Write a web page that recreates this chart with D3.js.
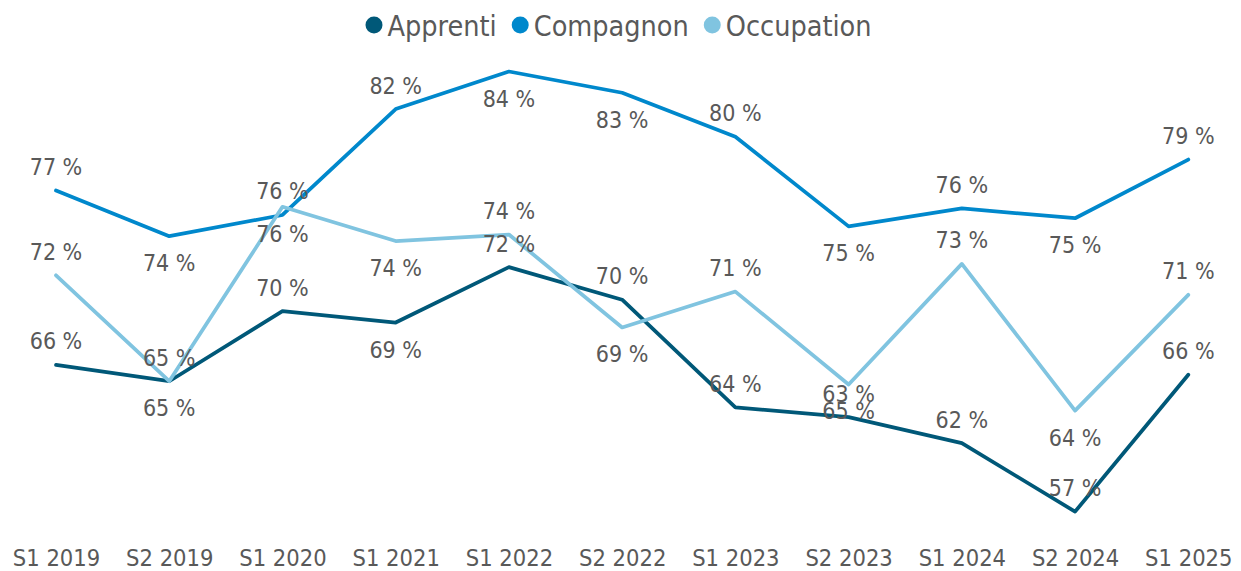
<!DOCTYPE html>
<html lang="fr">
<head>
    <meta charset="UTF-8">
    <title>Apprenti Compagnon Occupation</title>
    <script src="https://d3js.org/d3.v7.min.js"></script>
    <style>
        body { margin: 0; background: #fff; }
        text { font-family: "DejaVu Sans Condensed", "DejaVu Sans", sans-serif; font-stretch: condensed; fill: #595959; }
    </style>
</head>
<body>

    <svg width="1241" height="571"></svg>

<script>

    var categories = ['S1 2019','S2 2019','S1 2020','S1 2021','S1 2022','S2 2022','S1 2023','S2 2023','S1 2024','S2 2024','S1 2025'];
    var apprenti   = [66.4, 65.4, 69.7, 69.0, 72.4, 70.4, 63.8, 63.2, 61.6, 57.4, 65.8];
    var compagnon  = [77.1, 74.3, 75.6, 82.1, 84.4, 83.1, 80.4, 74.9, 76.0, 75.4, 79.0];
    var occupation = [71.9, 65.4, 76.1, 74.0, 74.4, 68.7, 70.9, 65.2, 72.6, 63.6, 70.7];

    // étiquettes au-dessus (a) ou au-dessous (b) du point
    var posApprenti   = ['a','b','a','b','a','a','a','a','a','a','a'];
    var posCompagnon  = ['a','b','a','a','b','b','a','b','a','b','a'];
    var posOccupation = ['a','a','b','b','a','b','a','b','a','b','a'];

    var series = [
        {name: 'Apprenti',   values: apprenti,   pos: posApprenti,   color: '#005878'},
        {name: 'Compagnon',  values: compagnon,  pos: posCompagnon,  color: '#0088cc'},
        {name: 'Occupation', values: occupation, pos: posOccupation, color: '#80c4e0'}
    ];

    var svg = d3.select('svg');
    var width = +svg.attr('width');

    // échelles
    var x = d3.scalePoint().domain(categories).range([56, 1188.3]);
    var y = d3.scaleLinear().domain([55, 85]).range([550.75, 61.75]);

    // axe x sans trait ni graduation
    var axisX = d3.axisBottom(x).tickSize(0).tickPadding(0);
    var gx = svg.append('g').attr('transform', 'translate(0,549)').call(axisX);
    gx.select('.domain').remove();
    gx.selectAll('text')
        .attr('dy', '0.71em')
        .style('font-size', '23.5px')
        .style('font-family', null)
        .attr('fill', '#595959');

    // lignes
    var line = d3.line()
        .x(function (d, i) { return x(categories[i]); })
        .y(function (d) { return y(d); });

    svg.selectAll('path.serie').data(series).enter().append('path')
        .attr('class', 'serie')
        .attr('d', function (d) { return line(d.values); })
        .attr('fill', 'none')
        .attr('stroke', function (d) { return d.color; })
        .attr('stroke-width', 3.75)
        .attr('stroke-linejoin', 'round')
        .attr('stroke-linecap', 'round');

    // étiquettes de données
    series.forEach(function (s) {
        svg.append('g').selectAll('text').data(s.values).enter().append('text')
            .attr('x', function (d, i) { return x(categories[i]); })
            .attr('y', function (d, i) { return y(d) + (s.pos[i] === 'a' ? -15.5 : 35); })
            .attr('text-anchor', 'middle')
            .style('font-size', '23px')
            .text(function (d) { return Math.round(d) + ' %'; });
    });

    // légende
    var legend = svg.append('g');
    var lx = 0;
    series.forEach(function (s, i) {
        var item = legend.append('g').attr('transform', 'translate(' + lx + ',0)');
        item.append('circle').attr('cx', 8.5).attr('cy', 25).attr('r', 8.5).attr('fill', s.color);
        var t = item.append('text').attr('x', 22).attr('y', 35.5)
            .style('font-size', '28.5px')
            .text(s.name);
        lx += 22 + t.node().getComputedTextLength() + 15;
    });
    lx -= 15;
    legend.attr('transform', 'translate(' + ((width - lx) / 2 - 2) + ',0)');

</script>
</body>
</html>
